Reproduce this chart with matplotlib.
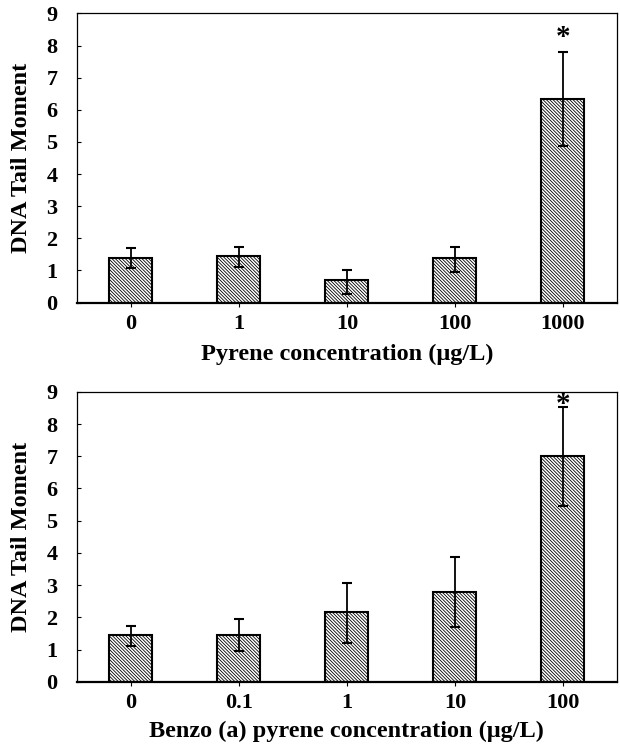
import matplotlib
matplotlib.use("Agg")
import matplotlib.pyplot as plt
import numpy as np

plt.rcParams['font.family'] = ['Liberation Serif', 'DejaVu Serif']
plt.rcParams['font.weight'] = 'bold'
plt.rcParams['hatch.linewidth'] = 0.6
plt.rcParams['hatch.color'] = '#222222'

# Panel 1: Pyrene
pyr_labels = ["0", "1", "10", "100", "1000"]
pyr_mean = [1.38, 1.45, 0.71, 1.38, 6.33]
pyr_err_low = [0.31, 0.33, 0.45, 0.42, 1.46]
pyr_err_up = [0.31, 0.29, 0.31, 0.34, 1.46]

# Panel 2: Benzo(a)pyrene
bap_labels = ["0", "0.1", "1", "10", "100"]
bap_mean = [1.45, 1.45, 2.15, 2.78, 7.01]
bap_err_low = [0.33, 0.50, 0.94, 1.07, 1.55]
bap_err_up = [0.29, 0.49, 0.92, 1.08, 1.53]

yticks = list(range(0, 10))

fig = plt.figure(figsize=(6.2, 7.47), dpi=100)
ax1 = fig.add_axes([0.124, 0.595, 0.871, 0.387])
ax2 = fig.add_axes([0.124, 0.0874, 0.871, 0.388])


def draw(ax, labels, mean, lo, up, xlabel, star_y, xpad):
    x = np.arange(len(labels))
    ax.bar(x, mean, width=0.4, color='white', edgecolor='black',
           linewidth=1.5, hatch='\\\\\\\\\\\\\\\\\\\\', zorder=2)
    ax.errorbar(x, mean, yerr=[lo, up], fmt='none', ecolor='black',
                elinewidth=1.3, capsize=3.3, capthick=1.5, zorder=3)
    ax.set_xlim(-0.5, len(labels) - 0.5)
    ax.set_ylim(0, 9)
    ax.set_yticks(yticks)
    ax.set_xticks(x)
    ax.set_xticklabels(labels)
    ax.tick_params(axis='y', direction='in', length=3, width=0.8,
                   labelsize=16, pad=14)
    ax.tick_params(axis='x', direction='out', length=3, width=0.8,
                   labelsize=16, pad=5)
    for s in ax.spines.values():
        s.set_linewidth(0.9)
    ax.spines['bottom'].set_linewidth(1.6)
    ax.set_ylabel("DNA Tail Moment", fontsize=17.5, fontweight='bold')
    ax.yaxis.set_label_coords(-0.083, 0.5)
    ax.set_xlabel(xlabel, fontsize=17.5, fontweight='bold', labelpad=xpad)
    ax.text(x[-1], star_y, "*", ha='center', va='center', fontsize=21,
            fontweight='bold')


draw(ax1, pyr_labels, pyr_mean, pyr_err_low, pyr_err_up,
     "Pyrene concentration (\u03bcg/L)", 8.25, 7)
draw(ax2, bap_labels, bap_mean, bap_err_low, bap_err_up,
     "Benzo (a) pyrene concentration (\u03bcg/L)", 8.6, 5.5)

fig.savefig("out.png", dpi=100)
